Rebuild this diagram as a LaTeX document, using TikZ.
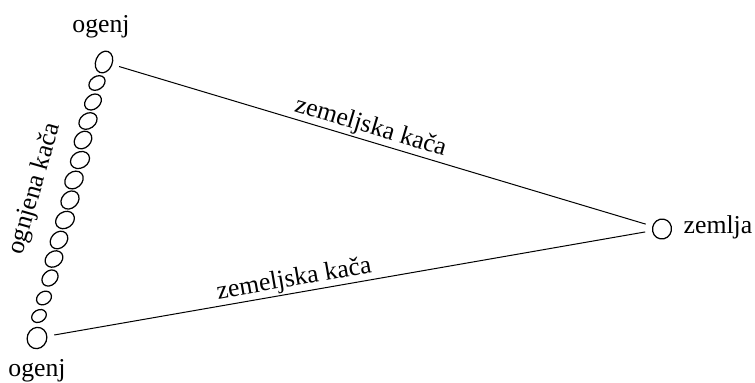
\documentclass[tikz,border=0pt]{standalone}
\usepackage{fontspec}
\setmainfont{Liberation Serif}
\usetikzlibrary{shapes.geometric}
\begin{document}
\begin{tikzpicture}[x=0.4pt, y=-0.4pt, font=\fontsize{10.3}{12}\selectfont]
\def\blob{node [ellipse, draw, line width = .5pt, inner sep = 0, outer sep = 3pt] }
\def\egg{node [ellipse, draw, line width = .5pt, inner sep = 0] }
\useasboundingbox (0,0) rectangle (755,382);

\draw (104,62) \blob [minimum width = 9pt, minimum height = 6.6pt, rotate = 68] (ta) {};
\draw (37,338) \blob [minimum width = 8.6pt, minimum height = 7.8pt, rotate = 70] (tb) {};
\draw (662,229) \blob [minimum width = 8pt, minimum height = 7.6pt, rotate = 80] (ze) {};

\node (ota) at (101,27) {ogenj};
\node (otb) at (37,371) {ogenj};
\node (oze) at (718,227) {zemlja};

% ognjena kaca
\draw (97,83) \egg [minimum width = 7pt, minimum height = 5.2pt, rotate = 35] (e1) {};
\draw (93,102) \egg [minimum width = 7.4pt, minimum height = 5.6pt, rotate = 40] (e2) {};
\draw (88,121) \egg [minimum width = 7.8pt, minimum height = 6pt, rotate = 35] (e3) {};
\draw (83,140) \egg [minimum width = 7.8pt, minimum height = 6.2pt, rotate = 45] (e4) {};
\draw (80,160) \egg [minimum width = 8pt, minimum height = 6.4pt, rotate = 30] (e5) {};
\draw (74,180) \egg [minimum width = 8pt, minimum height = 6.4pt, rotate = 40] (e6) {};
\draw (70,200) \egg [minimum width = 8pt, minimum height = 6.4pt, rotate = 45] (e7) {};
\draw (65,220) \egg [minimum width = 8pt, minimum height = 6.4pt, rotate = 35] (e8) {};
\draw (59,240) \egg [minimum width = 7.8pt, minimum height = 6.2pt, rotate = 45] (e9) {};
\draw (54,259) \egg [minimum width = 7.6pt, minimum height = 6pt, rotate = 35] (e10) {};
\draw (50,278) \egg [minimum width = 7.2pt, minimum height = 5.6pt, rotate = 45] (e11) {};
\draw (44,298) \egg [minimum width = 6.4pt, minimum height = 5pt, rotate = 35] (e12) {};
\draw (39,316) \egg [minimum width = 6.2pt, minimum height = 4.8pt, rotate = 30] (e13) {};

\node [rotate = 74] (ok) at (35,189) {ognjena kača};

\draw (ta) -- node [sloped, above, pos = .47, inner sep = .5pt] (ku) {zemeljska kača} (ze);
\draw (tb) -- node [sloped, above, pos = .41, inner sep = .5pt] (kl) {zemeljska kača} (ze);
\end{tikzpicture}
\end{document}
